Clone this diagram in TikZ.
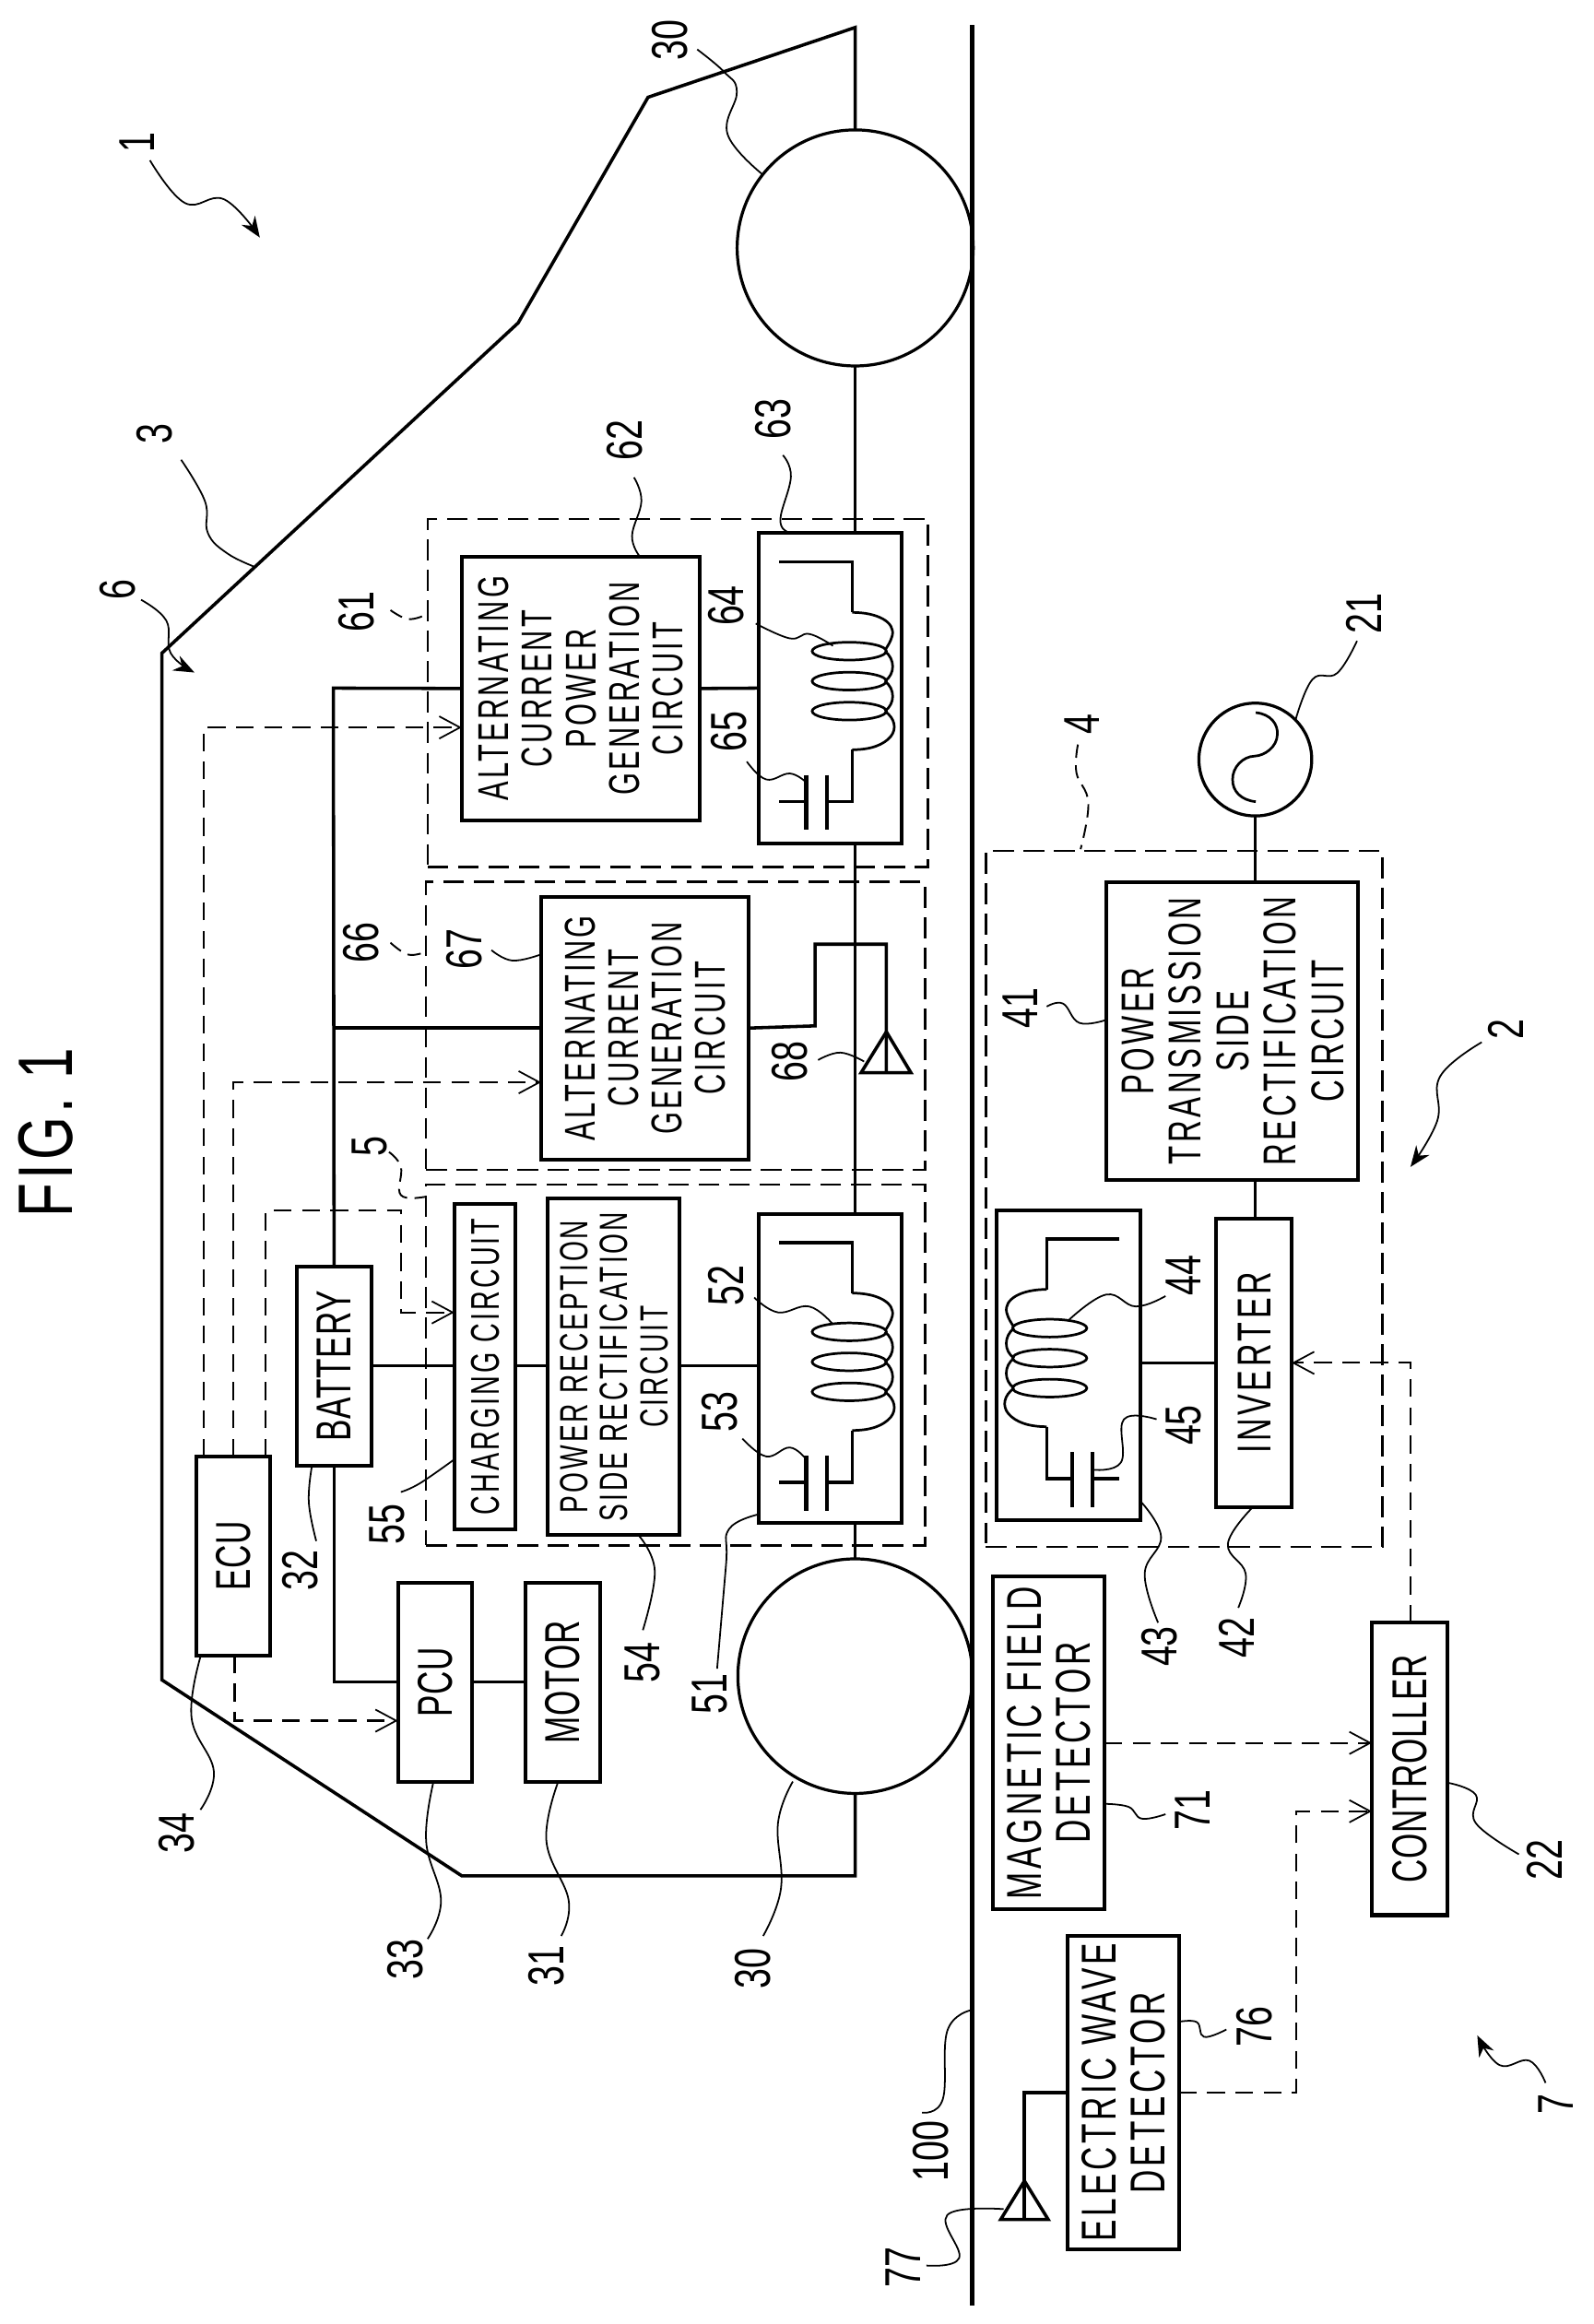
\documentclass[tikz,border=0pt]{standalone}
\usepackage{fontspec}
\usetikzlibrary{arrows.meta}
\newfontfamily\txt[FakeStretch=0.66,LetterSpace=7]{Liberation Sans}
\newfontfamily\txtt[FakeStretch=0.66,LetterSpace=1.5]{Liberation Sans}
\newfontfamily\dig[FakeStretch=0.72]{Liberation Sans}
\newfontfamily\figf[FakeStretch=0.72,LetterSpace=5]{Liberation Sans}
\tikzset{
  wire/.style={draw=black,line width=2.2pt},
  fnt/.style n args={2}{font=\txt\fontsize{#1}{#2}\selectfont},
  fntt/.style n args={2}{font=\txtt\fontsize{#1}{#2}\selectfont},
  box/.style={draw=black,line width=2.5pt,inner sep=0pt,outer sep=0pt,align=center},
  dbox/.style={draw=black,line width=1.5pt,inner sep=0pt,outer sep=0pt,dash pattern=on 14pt off 6.5pt},
  sig/.style={draw=black,line width=1.3pt,dash pattern=on 12pt off 7pt,-{Straight Barb[length=14pt,width=15pt,line width=1.1pt]}},
  lead/.style={draw=black,line width=1.1pt},
  dlead/.style={draw=black,line width=1.2pt,dash pattern=on 9pt off 5pt},
  tipped/.style={lead,-{Stealth[length=14pt,width=11pt]}},
  lab/.style={font=\dig\fontsize{34}{34}\selectfont,inner sep=0pt,outer sep=0pt},
  coilline/.style={draw=black,line width=1.7pt},
  round node/.style={draw=black,line width=2pt,circle,inner sep=0pt,outer sep=0pt},
}
\newcommand\rbox[6]{\node[box,#1,minimum width={(#5-#3)*1pt},minimum height={(#6-#4)*1pt}] (#2) at ({(#3+#5)/2},{(#4+#6)/2})}
\newcommand\tx[1]{\hspace*{0.3em}\rotatebox{90}{\begin{tabular}{@{}c@{}}#1\end{tabular}}}
\newcommand\lbl[3]{\node[lab] (l#1) at (#2,#3) {\rotatebox{90}{#1}};}
\newcommand\leadr[2][lead]{\draw[#1] plot[smooth,tension=0.7] coordinates {#2};}
\newcommand\coilparts{%
  \draw[wire] (14,19.5) -- (63,19.5) -- (63,53.5);
  \draw[coilline] (63,53.5) .. controls (80,53.5) and (92,60) .. (90,69) .. controls (89,73) and (87,76) .. (85,79);
  \foreach \yy in {79.6,99.8,120}{\draw[coilline] (61,\yy) ellipse[x radius=25,y radius=6];}
  \draw[coilline] (85,79.6) .. controls (92,85) and (92,95) .. (85,99.8);
  \draw[coilline] (85,99.8) .. controls (92,105) and (92,115) .. (85,120);
  \draw[coilline] (85,120) .. controls (92,125) and (93,132) .. (89,137) .. controls (84,143) and (75,146) .. (63,146);
  \draw[wire] (63,146) -- (63,181) -- (46,181);
  \draw[wire,line width=2.6pt] (46,163) -- (46,200);
  \draw[wire,line width=2.6pt] (32,163) -- (32,200);
  \draw[wire] (32,181) -- (14,181);
}
\begin{document}
\begin{tikzpicture}[x=1pt,y=-1pt]
\useasboundingbox (0,0) rectangle (1073,1565.4);
% title
\node[font=\figf\fontsize{52}{52}\selectfont,inner sep=0pt] (fig) at (31,763) {\rotatebox{90}{FIG. 1}};
% ground
\coordinate (gt) at (655,17); \coordinate (gb) at (655,1553);
\draw[wire,line width=3pt] (gt) -- (gb);
% wheels
\node[round node,minimum size=159pt] (w2) at (576,167) {};
\node[round node,minimum size=158pt] (w1) at (576,1129) {};
% body
\coordinate (v1) at (576,1263.5); \coordinate (v2) at (311,1263.5); \coordinate (v3) at (109,1131.5);
\coordinate (v4) at (109,440); \coordinate (v5) at (349,217.5); \coordinate (v6) at (436.5,65.5); \coordinate (v7) at (576,18.5);
\draw[wire,line join=miter] (w1.south) -- (v1) -- (v2) -- (v3) -- (v4) -- (v5) -- (v6) -- (v7) -- (w2.north);
% dashed groups
\rbox{dbox}{d61}{288}{349.5}{625}{584} {};
\rbox{dbox}{d66}{287}{594}{623}{788} {};
\rbox{dbox}{d5}{287}{798}{623}{1041} {};
\rbox{dbox}{d4}{664}{573}{931}{1042} {};
% blocks
\rbox{fnt={29}{29.3}}{b62}{311}{375}{471}{552.5} {\tx{ALTERNATING\\CURRENT\\POWER\\GENERATION\\CIRCUIT}};
\rbox{}{b63}{511}{359}{607}{568} {};
\rbox{fnt={29}{29.3}}{b67}{364.5}{604}{504}{781} {\tx{ALTERNATING\\CURRENT\\GENERATION\\CIRCUIT}};
\rbox{fnt={27}{27}}{b55}{306}{811}{347}{1030} {\tx{CHARGING CIRCUIT}};
\rbox{fnt={26.5}{27}}{b54}{369}{807}{457.5}{1034} {\tx{POWER RECEPTION\\SIDE RECTIFICATION\\CIRCUIT}};
\rbox{}{b51}{511}{817.5}{607}{1026} {};
\rbox{fntt={33}{33}}{bat}{200}{853}{250}{987} {\tx{BATTERY}};
\rbox{fntt={33}{33}}{ecu}{132}{981}{182}{1115} {\tx{ECU}};
\rbox{fntt={33}{33}}{pcu}{268}{1066}{318}{1200} {\tx{PCU}};
\rbox{fntt={33}{33}}{mot}{354}{1066}{404}{1200} {\tx{MOTOR}};
\rbox{fnt={31}{32}}{b41}{745}{594}{914.5}{795} {\tx{POWER\\TRANSMISSION\\SIDE\\RECTIFICATION\\CIRCUIT}};
\rbox{}{b43}{671.5}{815}{768}{1024} {};
\rbox{fnt={32}{33}}{inv}{819}{821}{870}{1015} {\tx{INVERTER}};
\rbox{fntt={33}{33}}{ctl}{924}{1093}{975}{1290} {\tx{CONTROLLER}};
\rbox{fnt={33}{32}}{mag}{669.5}{1062}{743}{1286} {\tx{MAGNETIC FIELD\\DETECTOR}};
\rbox{fnt={33}{32}}{elw}{720.5}{1304}{792.5}{1515} {\tx{ELECTRIC WAVE\\DETECTOR}};
\node[round node,minimum size=76pt] (src) at (845.5,511.6) {};
\draw[coilline] (845.8,480) .. controls (856,481) and (861,488) .. (860.3,495) .. controls (860,503) and (852,509) .. (845,509.3) .. controls (837,509.5) and (830,517) .. (830.2,525) .. controls (830,533) and (836,539) .. (845.8,540);
% coils
\begin{scope}[shift={(511,359)}]\coilparts\end{scope}
\begin{scope}[shift={(511,817.5)}]\coilparts\end{scope}
\begin{scope}[shift={(768,815)},xscale=-1]\coilparts\end{scope}
% wires
\coordinate (bus) at (224.5,463.5);
\draw[wire] (bat.north) -- (bus) -- (b62.west);
\draw[wire] (bat.north |- b67.west) -- (b67.west);
\draw[wire] (b62.east) -- (b63.west);
\draw[wire] (bat.east) -- (bat.east -| b55.west);
\draw[wire] (bat.east -| b55.east) -- (bat.east -| b54.west);
\draw[wire] (bat.east -| b54.east) -- (bat.east -| b51.west);
\draw[wire] (bat.south) |- (pcu.west);
\draw[wire] (pcu.east) -- (mot.west);
\draw[wire] (w2.south) -- (w2.south |- b63.north);
\draw[wire] (w2.south |- b63.south) -- (w2.south |- b51.north);
\draw[wire] (w2.south |- b51.south) -- (w1.north);
% antenna 68
\coordinate (a68) at (597,695); \coordinate (a68l) at (580,722.5); \coordinate (a68r) at (613.5,722.5); \coordinate (a68b) at (597,722.5);
\coordinate (k1) at (549,691); \coordinate (k2) at (549,636); \coordinate (k3) at (597,636);
\draw[wire] (b67.east) -- (k1) -- (k2) -- (k3) -- (a68b);
\draw[wire,line join=miter] (a68) -- (a68l) -- (a68r) -- cycle;
% lower wires
\coordinate (y918) at (0,918); \coordinate (y1174) at (0,1174);
\draw[wire] (src.south) -- (b41.north -| src.south);
\draw[wire] (b41.south -| src.south) -- (inv.north -| src.south);
\draw[wire] (b43.east |- y918) -- (inv.west |- y918);
% antenna 77
\coordinate (k4) at (690,1409.5); \coordinate (a77) at (690,1469); \coordinate (a77l) at (674,1495); \coordinate (a77r) at (706,1495); \coordinate (a77b) at (690,1495);
\draw[wire] (elw.west |- k4) -- (k4) -- (a77b);
\draw[wire,line join=miter] (a77) -- (a77l) -- (a77r) -- cycle;
% signals
\coordinate (s1) at (137,490); \coordinate (s2) at (157,729); \coordinate (s3) at (179,815.5); \coordinate (s4) at (270,815.5); \coordinate (s5) at (270,884);
\coordinate (s6) at (158,1159);
\draw[sig] (ecu.north -| s1) -- (s1) -- (b62.west |- s1);
\draw[sig] (ecu.north -| s2) -- (s2) -- (b67.west |- s2);
\draw[sig] (ecu.north -| s3) -- (s3) -- (s4) -- (s5) -- (b55.west |- s5);
\draw[sig] (ecu.south -| s6) -- (s6) -- (pcu.west |- s6);
\coordinate (s7) at (950,918); \coordinate (s8) at (873,1409.5); \coordinate (s9) at (873,1220);
\draw[sig] (ctl.north -| s7) -- (s7) -- (inv.east |- s7);
\draw[sig] (mag.east |- y1174) -- (ctl.west |- y1174);
\draw[sig] (elw.east |- s8) -- (s8) -- (s9) -- (ctl.west |- s9);
% labels
\lbl{1}{92.5}{96}\lbl{2}{1014}{693}\lbl{3}{104}{292}\lbl{6}{79}{397}
\lbl{61}{240}{412}\lbl{62}{420.5}{296.5}\lbl{63}{520.5}{282}\lbl{64}{489}{408}\lbl{65}{491}{493}
\lbl{66}{243}{635}\lbl{67}{313}{639}\lbl{68}{532}{715}\lbl{5}{249}{772}
\lbl{52}{489}{866}\lbl{53}{485}{951}\lbl{55}{261}{1027}\lbl{32}{202}{1058}\lbl{54}{433}{1120}
\lbl{51}{478}{1141}\lbl{34}{119}{1235}\lbl{33}{273}{1320}\lbl{31}{368}{1324}
\node[lab] (l30a) at (507,1326) {\rotatebox{90}{30}};
\node[lab] (l30b) at (451.5,27) {\rotatebox{90}{30}};
\lbl{41}{687}{679}\lbl{44}{797}{859}\lbl{45}{797}{960}\lbl{42}{833}{1103}\lbl{43}{781}{1109}
\lbl{21}{918.5}{413}\lbl{4}{728.5}{487.5}\lbl{71}{803}{1219}\lbl{76}{845}{1365}\lbl{22}{1040}{1253}
\lbl{7}{1048}{1417}\lbl{100}{627}{1449}\lbl{77}{608}{1527}
% leaders
\leadr[tipped]{(101,108) (124.5,136.7) (151,134.3) (175,160)}
\leadr[tipped]{(998,702) (970,725) (968,755) (950,786)}
\leadr{(122,309.7) (138,337.5) (140,359) (153,372.7) (172,382)}
\leadr[tipped]{(95,404) (112,418) (115,440) (131,453)}
\leadr{(427,321.6) (432,337.5) (425.7,361) (431,375)}
\leadr{(527.3,306.6) (532.7,321) (525.6,349.4) (530,358)}
\leadr{(509,420) (532,430) (545,427) (561,435)}
\leadr{(503,513) (516,525) (532,521) (543,527)}
\leadr[dlead]{(263,411) (275,417) (287,414)}
\leadr[dlead]{(263,635) (275,643) (287,641)}
\leadr{(331,640) (345,647) (364,643)}
\leadr{(551,714) (566,709) (582,715)}
\leadr[dlead]{(262,776) (270,786) (270,805) (287,806)}
\leadr{(508,874) (524,884) (545,880) (561,892)}
\leadr{(500,969) (516,981) (532,975) (543,983)}
\leadr{(270,1005) (283,999) (306,983)}
\leadr{(213,1038) (208,1012) (210,988)}
\leadr{(433,1098) (441,1058) (430,1034)}
\leadr{(483,1124) (489,1054) (491,1030) (511,1020)}
\leadr{(135,1219) (144,1193) (129,1157) (135,1116)}
\leadr{(288,1306) (297,1280) (287,1240) (292,1200)}
\leadr{(378,1304) (383,1280) (368,1240) (376,1200)}
\leadr{(514,1304) (526,1272) (524,1228) (534,1200)}
\leadr{(705,678) (716,676) (727,689) (745,687)}
\leadr{(785,873) (765,880) (745,872) (720,889)}
\leadr{(779,956) (757,956) (755,985) (736,990)}
\leadr{(834,1083) (839,1060) (827,1040) (843,1016)}
\leadr{(780,1093) (771,1060) (782,1035) (768,1011)}
\leadr{(914,431.7) (900.6,453.4) (884,457.6) (872.7,484.5)}
\leadr{(469.6,33.3) (488,48.7) (496.3,61.8) (490,90.3) (513,117)}
\leadr[dlead]{(726,501.5) (725,520.5) (733,540.7) (727.8,572)}
\leadr{(743,1215) (760,1217) (769,1225) (785,1222)}
\leadr{(793,1362) (806,1362) (811,1372) (826,1367)}
\leadr{(976,1201) (994,1209) (994,1228) (1023,1249)}
\leadr[tipped]{(1041,1403) (1030,1388) (1010,1391) (995,1371)}
\leadr{(654,1354) (638,1368) (635,1414) (621,1423)}
\leadr{(676,1488) (638,1492) (646,1521) (624,1526)}
\end{tikzpicture}
\end{document}
